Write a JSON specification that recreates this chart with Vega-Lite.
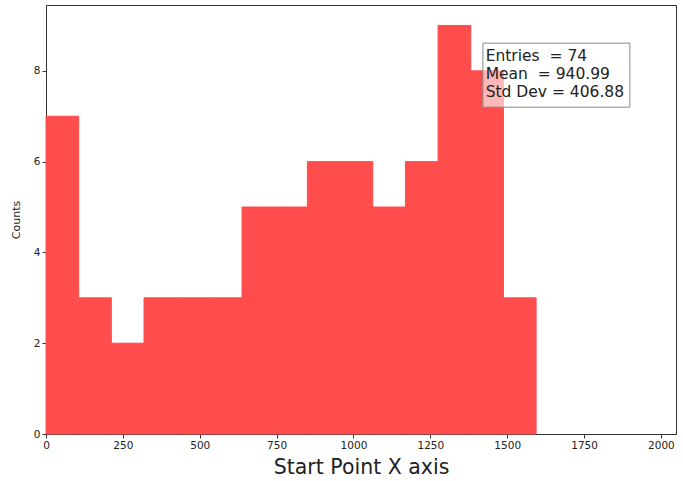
{
  "$schema": "https://vega.github.io/schema/vega-lite/v6.json",
  "autosize": "none",
  "width": 630,
  "height": 429,
  "padding": {"left": 46, "top": 5, "right": 7, "bottom": 47},
  "background": "white",
  "config": {
    "view": {"stroke": "#333", "strokeWidth": 1},
    "font": "DejaVu Sans",
    "axis": {
      "grid": false,
      "domainColor": "#333",
      "tickColor": "#333",
      "tickSize": 4,
      "labelFont": "DejaVu Sans",
      "labelFontSize": 10.5,
      "labelColor": "#222",
      "labelFlush": false,
      "format": "d",
      "titleFont": "DejaVu Sans",
      "titleFontWeight": "normal",
      "titleColor": "#222"
    }
  },
  "datasets": {
    "bins": [
      {"start": 0, "end": 106.27, "count": 7},
      {"start": 106.27, "end": 212.53, "count": 3},
      {"start": 212.53, "end": 318.8, "count": 2},
      {"start": 318.8, "end": 425.07, "count": 3},
      {"start": 425.07, "end": 531.33, "count": 3},
      {"start": 531.33, "end": 637.6, "count": 3},
      {"start": 637.6, "end": 743.87, "count": 5},
      {"start": 743.87, "end": 850.13, "count": 5},
      {"start": 850.13, "end": 956.4, "count": 6},
      {"start": 956.4, "end": 1062.67, "count": 6},
      {"start": 1062.67, "end": 1168.93, "count": 5},
      {"start": 1168.93, "end": 1275.2, "count": 6},
      {"start": 1275.2, "end": 1381.47, "count": 9},
      {"start": 1381.47, "end": 1487.73, "count": 8},
      {"start": 1487.73, "end": 1594, "count": 3}
    ],
    "box": [{"x1": 1421, "x2": 1899, "y1": 7.2, "y2": 8.61}],
    "stats": [
      {"label": "Entries\u00a0\u00a0=\u00a074", "x": 1430, "y": 8.33},
      {"label": "Mean\u00a0\u00a0=\u00a0940.99", "x": 1430, "y": 7.93},
      {"label": "Std\u00a0Dev\u00a0=\u00a0406.88", "x": 1430, "y": 7.53}
    ]
  },
  "layer": [
    {
      "data": {"name": "bins"},
      "mark": {"type": "rect", "color": "#FF4D4D", "stroke": "#FF4D4D", "strokeWidth": 1},
      "encoding": {
        "x": {
          "field": "start", "type": "quantitative",
          "scale": {"domain": [0, 2049], "nice": false, "zero": false},
          "axis": {"values": [0, 250, 500, 750, 1000, 1250, 1500, 1750, 2000], "title": "Start Point X axis", "titleFontSize": 20.5, "titlePadding": 7}
        },
        "x2": {"field": "end"},
        "y": {
          "field": "count", "type": "quantitative",
          "scale": {"domain": [0, 9.45], "nice": false},
          "axis": {"values": [0, 2, 4, 6, 8], "title": "Counts", "titleFontSize": 11, "titlePadding": 12}
        },
        "y2": {"datum": 0}
      }
    },
    {
      "data": {"name": "box"},
      "mark": {"type": "rect", "fill": "white", "fillOpacity": 0.6, "stroke": "#888", "strokeWidth": 1},
      "encoding": {
        "x": {"field": "x1", "type": "quantitative"},
        "x2": {"field": "x2"},
        "y": {"field": "y1", "type": "quantitative"},
        "y2": {"field": "y2"}
      }
    },
    {
      "data": {"name": "stats"},
      "mark": {"type": "text", "align": "left", "baseline": "middle", "fontSize": 15.5, "font": "DejaVu Sans", "color": "#222"},
      "encoding": {
        "x": {"field": "x", "type": "quantitative"},
        "y": {"field": "y", "type": "quantitative"},
        "text": {"field": "label"}
      }
    }
  ]
}
